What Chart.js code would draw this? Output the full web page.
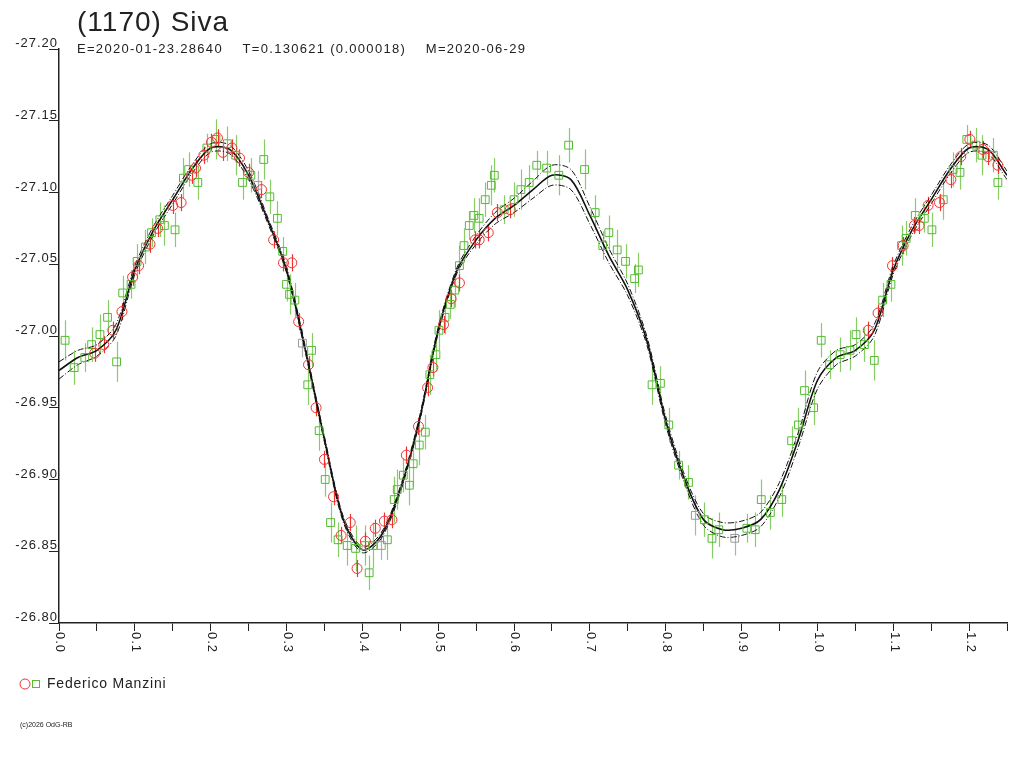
<!DOCTYPE html>
<html>
<head>
<meta charset="utf-8">
<script src="https://cdn.jsdelivr.net/npm/chart.js@4"></script>
<style>
  html, body { margin: 0; padding: 0; background: #fff; }
  #wrap { width: 1024px; height: 768px; }
</style>
</head>
<body>
<div id="wrap"><canvas id="lc"></canvas></div>
<script>
// fitted light curve (one rotation, phase 0..1), magnitude
const fitPhase = [0.000, 0.025, 0.050, 0.075, 0.100, 0.125, 0.150, 0.175, 0.200, 0.225,
  0.250, 0.275, 0.300, 0.325, 0.350, 0.375, 0.400, 0.425, 0.450, 0.475,
  0.500, 0.525, 0.550, 0.575, 0.600, 0.625, 0.650, 0.675, 0.700, 0.725,
  0.750, 0.775, 0.800, 0.825, 0.850, 0.875, 0.900, 0.925, 0.950, 0.975, 1.000];
const fitMag = [-26.976, -26.985, -26.990, -27.004, -27.046, -27.074, -27.095, -27.116, -27.131, -27.130,
  -27.112, -27.081, -27.046, -26.990, -26.928, -26.872, -26.851, -26.861, -26.893, -26.941,
  -27.004, -27.046, -27.067, -27.082, -27.091, -27.102, -27.112, -27.109, -27.084, -27.056,
  -27.032, -26.997, -26.941, -26.900, -26.872, -26.865, -26.866, -26.872, -26.893, -26.928, -26.969];
const fitSigma = [0.006, 0.005, 0.004, 0.004, 0.003, 0.003, 0.003, 0.003, 0.003, 0.003,
  0.003, 0.002, 0.002, 0.002, 0.002, 0.002, 0.002, 0.002, 0.002, 0.002,
  0.002, 0.002, 0.003, 0.004, 0.005, 0.006, 0.007, 0.007, 0.006, 0.005,
  0.004, 0.003, 0.003, 0.003, 0.004, 0.005, 0.005, 0.005, 0.005, 0.005, 0.006];

// observations, red circles
const redPhase = [0.047, 0.059, 0.071, 0.083, 0.097, 0.105, 0.120, 0.130, 0.150, 0.161,
  0.175, 0.180, 0.191, 0.201, 0.209, 0.216, 0.228, 0.238, 0.250, 0.267,
  0.283, 0.296, 0.307, 0.316, 0.329, 0.339, 0.350, 0.362, 0.372, 0.384,
  0.393, 0.404, 0.417, 0.429, 0.439, 0.458, 0.474, 0.486, 0.493, 0.507,
  0.517, 0.528, 0.549, 0.554, 0.566, 0.578, 0.595, 1.067, 1.080, 1.099,
  1.113, 1.128, 1.134, 1.146, 1.161, 1.176, 1.189, 1.201, 1.218, 1.225, 1.238];
const redMag = [-26.988, -26.994, -27.004, -27.017, -27.041, -27.049, -27.064, -27.075, -27.091, -27.093,
  -27.112, -27.117, -27.126, -27.135, -27.138, -27.128, -27.131, -27.124, -27.114, -27.102,
  -27.067, -27.051, -27.051, -27.010, -26.980, -26.950, -26.914, -26.888, -26.861, -26.870,
  -26.838, -26.857, -26.866, -26.871, -26.872, -26.917, -26.937, -26.964, -26.978, -27.008,
  -27.026, -27.037, -27.067, -27.067, -27.072, -27.086, -27.088, -27.004, -27.016, -27.049,
  -27.063, -27.077, -27.077, -27.091, -27.093, -27.109, -27.125, -27.137, -27.130, -27.125, -27.119];
const redErr = 0.006;

// observations, green squares
const greenPhase = [0.008, 0.020, 0.034, 0.043, 0.054, 0.064, 0.076, 0.084, 0.095, 0.103,
  0.114, 0.122, 0.133, 0.139, 0.153, 0.164, 0.171, 0.183, 0.195, 0.207,
  0.222, 0.233, 0.242, 0.253, 0.262, 0.270, 0.278, 0.288, 0.295, 0.300,
  0.304, 0.311, 0.321, 0.328, 0.333, 0.343, 0.351, 0.358, 0.368, 0.380,
  0.391, 0.403, 0.409, 0.414, 0.425, 0.433, 0.442, 0.446, 0.454, 0.462,
  0.467, 0.475, 0.483, 0.489, 0.497, 0.501, 0.509, 0.516, 0.522, 0.528,
  0.534, 0.541, 0.547, 0.554, 0.562, 0.570, 0.574, 0.587, 0.600, 0.609,
  0.620, 0.630, 0.643, 0.659, 0.672, 0.693, 0.707, 0.717, 0.725, 0.736,
  0.747, 0.759, 0.764, 0.782, 0.793, 0.804, 0.817, 0.830, 0.839, 0.851,
  0.861, 0.870, 0.891, 0.907, 0.918, 0.926, 0.938, 0.953, 0.966, 0.975,
  0.983, 0.995, 1.005, 1.016, 1.030, 1.043, 1.051, 1.062, 1.075, 1.086,
  1.097, 1.111, 1.117, 1.129, 1.141, 1.151, 1.166, 1.179, 1.188, 1.197,
  1.209, 1.217, 1.232, 1.238];
const greenMag = [-26.997, -26.978, -26.985, -26.994, -27.001, -27.013, -26.982, -27.030, -27.036, -27.052,
  -27.062, -27.072, -27.081, -27.077, -27.074, -27.110, -27.116, -27.107, -27.131, -27.137,
  -27.134, -27.126, -27.107, -27.112, -27.105, -27.123, -27.097, -27.082, -27.059, -27.036,
  -27.029, -27.025, -26.995, -26.966, -26.990, -26.934, -26.900, -26.870, -26.858, -26.854,
  -26.852, -26.854, -26.835, -26.854, -26.854, -26.858, -26.886, -26.893, -26.903, -26.896,
  -26.911, -26.924, -26.933, -26.973, -26.987, -27.004, -27.013, -27.022, -27.032, -27.049,
  -27.063, -27.077, -27.084, -27.082, -27.095, -27.105, -27.112, -27.088, -27.095, -27.102,
  -27.107, -27.119, -27.117, -27.112, -27.133, -27.116, -27.086, -27.063, -27.072, -27.060,
  -27.052, -27.040, -27.046, -26.966, -26.967, -26.938, -26.910, -26.898, -26.875, -26.872,
  -26.859, -26.865, -26.859, -26.866, -26.865, -26.886, -26.877, -26.886, -26.927, -26.938,
  -26.962, -26.950, -26.997, -26.980, -26.987, -26.990, -27.001, -26.994, -26.983, -27.025,
  -27.036, -27.063, -27.068, -27.084, -27.082, -27.074, -27.095, -27.116, -27.114, -27.137,
  -27.133, -27.126, -27.126, -27.107];
const greenErr = [0.014, 0.012, 0.010, 0.012, 0.014, 0.012, 0.014, 0.012, 0.010, 0.012,
  0.012, 0.010, 0.012, 0.014, 0.012, 0.014, 0.012, 0.012, 0.010, 0.014,
  0.012, 0.014, 0.012, 0.012, 0.010, 0.014, 0.012, 0.012, 0.010, 0.012,
  0.014, 0.012, 0.010, 0.014, 0.012, 0.014, 0.012, 0.014, 0.012, 0.014,
  0.016, 0.014, 0.012, 0.016, 0.010, 0.014, 0.016, 0.014, 0.012, 0.014,
  0.016, 0.014, 0.012, 0.014, 0.012, 0.014, 0.012, 0.010, 0.012, 0.014,
  0.012, 0.010, 0.012, 0.014, 0.012, 0.014, 0.012, 0.010, 0.012, 0.014,
  0.012, 0.010, 0.012, 0.014, 0.012, 0.014, 0.012, 0.010, 0.012, 0.014,
  0.012, 0.010, 0.012, 0.014, 0.012, 0.012, 0.010, 0.012, 0.014, 0.012,
  0.014, 0.012, 0.012, 0.010, 0.012, 0.014, 0.012, 0.012, 0.010, 0.012,
  0.014, 0.012, 0.012, 0.010, 0.012, 0.014, 0.012, 0.012, 0.014, 0.012,
  0.012, 0.014, 0.012, 0.012, 0.010, 0.012, 0.014, 0.012, 0.012, 0.010,
  0.012, 0.014, 0.012, 0.012];
// indices of points drawn grey
const greyIdx = [24, 32, 44, 88, 92];

const yTicks = [-27.20, -27.15, -27.10, -27.05, -27.00, -26.95, -26.90, -26.85, -26.80];
const xTicks = [0.0, 0.1, 0.2, 0.3, 0.4, 0.5, 0.6, 0.7, 0.8, 0.9, 1.0, 1.1, 1.2];

// curve repeated past phase 1
const curvePhase = fitPhase.concat(fitPhase.slice(1).map(p => p + 1).filter(p => p <= 1.26));
const curveIdx = fitPhase.map((p, i) => i).concat(fitPhase.slice(1).map((p, i) => i + 1)).slice(0, curvePhase.length);
const mkCurve = k => curvePhase.map((p, j) => ({ x: p, y: fitMag[curveIdx[j]] + k * fitSigma[curveIdx[j]] }));

const greenCol = greenPhase.map((p, i) => greyIdx.includes(i) ? '#9a9a9a' : '#55bb33');
const greenBarCol = greenPhase.map((p, i) => greyIdx.includes(i) ? '#b0b0b0' : '#88cc66');

const FONT = '"Liberation Sans", Arial, sans-serif';

const decor = {
  id: 'decor',
  beforeDatasetsDraw(chart) {
    const { ctx, scales: { x, y } } = chart;
    ctx.save();
    ctx.lineWidth = 1.2;
    greenPhase.forEach((p, i) => {
      ctx.strokeStyle = greenBarCol[i];
      ctx.beginPath();
      ctx.moveTo(Math.round(x.getPixelForValue(p)) + 0.5, y.getPixelForValue(greenMag[i] - greenErr[i]));
      ctx.lineTo(Math.round(x.getPixelForValue(p)) + 0.5, y.getPixelForValue(greenMag[i] + greenErr[i]));
      ctx.stroke();
    });
    ctx.strokeStyle = '#ee3333';
    redPhase.forEach((p, i) => {
      ctx.beginPath();
      ctx.moveTo(Math.round(x.getPixelForValue(p)) + 0.5, y.getPixelForValue(redMag[i] - redErr));
      ctx.lineTo(Math.round(x.getPixelForValue(p)) + 0.5, y.getPixelForValue(redMag[i] + redErr));
      ctx.stroke();
    });
    ctx.restore();
  },
  afterDraw(chart) {
    const { ctx, scales: { x, y }, chartArea } = chart;
    ctx.save();
    ctx.fillStyle = '#222';
    ctx.font = '28px ' + FONT;
    ctx.letterSpacing = '1px';
    ctx.textBaseline = 'alphabetic';
    ctx.fillText('(1170) Siva', 77, 31);
    ctx.font = '13px ' + FONT;
    ctx.letterSpacing = '1.3px';
    ctx.fillText('E=2020-01-23.28640    T=0.130621 (0.000018)    M=2020-06-29', 77, 53);
    // y labels above their ticks
    ctx.letterSpacing = '1px';
    ctx.textAlign = 'right';
    ctx.textBaseline = 'bottom';
    yTicks.forEach(v => ctx.fillText(v.toFixed(2), chartArea.left - 1, y.getPixelForValue(v) + 1));
    // x labels, rotated
    ctx.textAlign = 'left';
    ctx.textBaseline = 'middle';
    xTicks.forEach(v => {
      ctx.save();
      ctx.translate(x.getPixelForValue(v) + 1, chartArea.bottom + 9);
      ctx.rotate(Math.PI / 2);
      ctx.fillText(v.toFixed(1), 0, 0);
      ctx.restore();
    });
    // legend
    ctx.lineWidth = 1;
    ctx.strokeStyle = '#ee3333';
    ctx.beginPath(); ctx.arc(25, 684, 5, 0, Math.PI * 2); ctx.stroke();
    ctx.strokeStyle = '#55bb33';
    ctx.strokeRect(32.5, 680.5, 7, 7);
    ctx.font = '14px ' + FONT;
    ctx.letterSpacing = '0.8px';
    ctx.fillText('Federico Manzini', 47, 684);
    ctx.font = '7px ' + FONT;
    ctx.letterSpacing = '0px';
    ctx.fillText('(c)2026 OdG-RB', 20, 725);
    ctx.restore();
  }
};

new Chart(document.getElementById('lc'), {
  type: 'scatter',
  data: {
    datasets: [
      { data: mkCurve(0), showLine: true, borderColor: '#111', borderWidth: 1.6, pointRadius: 0, tension: 0.3, order: 3 },
      { data: mkCurve(-1), showLine: true, borderColor: '#111', borderWidth: 1, borderDash: [6, 2, 1, 2], pointRadius: 0, tension: 0.3, order: 3 },
      { data: mkCurve(1), showLine: true, borderColor: '#111', borderWidth: 1, borderDash: [6, 2, 1, 2], pointRadius: 0, tension: 0.3, order: 3 },
      { data: greenPhase.map((p, i) => ({ x: p, y: greenMag[i] })), pointStyle: 'rect', pointRadius: 5.5,
        borderColor: greenCol, backgroundColor: 'rgba(0,0,0,0)', borderWidth: 1, order: 2 },
      { data: redPhase.map((p, i) => ({ x: p, y: redMag[i] })), pointStyle: 'circle', pointRadius: 5,
        borderColor: '#ee3333', backgroundColor: 'rgba(0,0,0,0)', borderWidth: 1, order: 1 }
    ]
  },
  options: {
    responsive: true,
    maintainAspectRatio: false,
    animation: false,
    events: [],
    layout: { padding: { left: 49, top: 49, right: 17, bottom: 137 } },
    plugins: { legend: { display: false }, tooltip: { enabled: false } },
    scales: {
      x: {
        type: 'linear', min: 0, max: 1.25,
        ticks: { display: false, stepSize: 0.05 },
        grid: { drawOnChartArea: false, drawTicks: true, tickLength: 8, color: '#222' },
        border: { color: '#222', width: 1.5 }
      },
      y: {
        type: 'linear', min: -27.20, max: -26.80, reverse: true,
        ticks: { display: false, stepSize: 0.05 },
        grid: { drawOnChartArea: false, drawTicks: true, tickLength: 10, color: '#222' },
        border: { color: '#222', width: 1.5 }
      }
    }
  },
  plugins: [decor]
});
</script>
</body>
</html>
